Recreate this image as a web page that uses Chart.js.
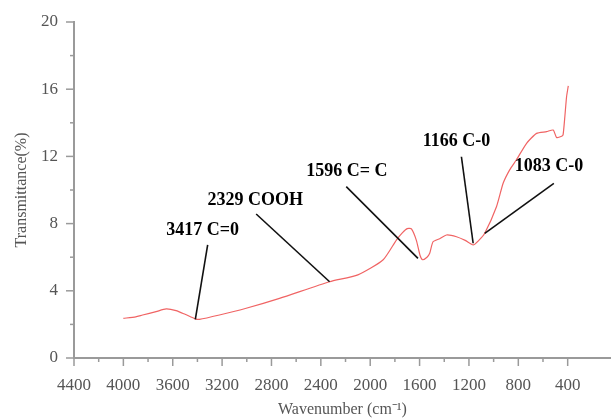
<!DOCTYPE html>
<html>
<head>
<meta charset="utf-8">
<script src="https://cdn.jsdelivr.net/npm/chart.js@4/dist/chart.umd.min.js"></script>
<style>
  html, body { margin: 0; padding: 0; background: #fff; }
  #wrap { width: 611px; height: 419px; position: relative; }
</style>
</head>
<body>
<div id="wrap"><canvas id="ftir"></canvas></div>
<script>
// FTIR spectrum, values
const wavenumber = [4000, 3900, 3844, 3735, 3654, 3573, 3500, 3417, 3384, 3222, 3005, 2735, 2329, 2100, 1897, 1788, 1740, 1700, 1666, 1626, 1596, 1575, 1540, 1518, 1491, 1437, 1382, 1301, 1230, 1166, 1120, 1072, 977, 923, 870, 815, 733, 652, 571, 517, 490, 449, 437, 423, 409, 395];
const transmittance = [2.36, 2.45, 2.56, 2.76, 2.92, 2.82, 2.6, 2.33, 2.30, 2.56, 2.96, 3.55, 4.54, 4.95, 5.83, 7.02, 7.45, 7.7, 7.68, 7.0, 6.1, 5.85, 6.0, 6.23, 6.92, 7.1, 7.32, 7.22, 7.0, 6.73, 7.0, 7.42, 9.0, 10.4, 11.2, 11.8, 12.78, 13.37, 13.47, 13.57, 13.13, 13.2, 13.3, 14.36, 15.55, 16.2];

// peak call-outs: leader line from the peak to the label
const peakLabels = ['3417 C=0', '2329 COOH', '1596 C= C', '1166 C-0', '1083 C-0'];
const leaderFrom = [[3417, 2.3], [2329, 4.54], [1613, 5.93], [1166, 6.83], [1072, 7.42]];
const leaderTo = [[3317, 6.73], [2924, 8.57], [2194, 10.2], [1261, 11.98], [512, 10.4]];
const labelAt = [[3652, 7.62], [3319, 9.4], [2518, 11.09], [1575, 12.88], [829, 11.39]];

const xMajor = [4400, 4000, 3600, 3200, 2800, 2400, 2000, 1600, 1200, 800, 400];
const yMajor = [0, 4, 8, 12, 16, 20];

const axisGrey = '#9a9a9a';
const textGrey = '#555';

const spectrum = wavenumber.map((w, i) => ({ x: w, y: transmittance[i] }));
const leaders = leaderFrom.map((p, i) => ({
  data: [{ x: p[0], y: p[1] }, { x: leaderTo[i][0], y: leaderTo[i][1] }],
  borderColor: '#111',
  borderWidth: 1.6,
  pointRadius: 0,
  order: 0
}));

// small tick marks drawn by hand so minor ticks can be shorter
const tickMarks = {
  id: 'tickMarks',
  afterDraw(chart) {
    const { ctx, scales: { x, y }, chartArea } = chart;
    ctx.save();
    ctx.strokeStyle = axisGrey;
    ctx.lineWidth = 1.5;
    for (let v = 4400; v >= 400; v -= 200) {
      const px = x.getPixelForValue(v);
      const len = v % 400 === 0 ? 8 : 4;
      ctx.beginPath();
      ctx.moveTo(px, chartArea.bottom);
      ctx.lineTo(px, chartArea.bottom + len);
      ctx.stroke();
    }
    for (let v = 0; v <= 20; v += 2) {
      const py = y.getPixelForValue(v);
      const len = v % 4 === 0 ? 8 : 4;
      ctx.beginPath();
      ctx.moveTo(chartArea.left, py);
      ctx.lineTo(chartArea.left - len, py);
      ctx.stroke();
    }
    // peak labels
    ctx.fillStyle = '#000';
    ctx.font = 'bold 18px "Liberation Serif", "DejaVu Serif", serif';
    ctx.textBaseline = 'middle';
    ctx.textAlign = 'left';
    peakLabels.forEach((t, i) => {
      ctx.fillText(t, x.getPixelForValue(labelAt[i][0]), y.getPixelForValue(labelAt[i][1]));
    });
    ctx.restore();
  }
};

new Chart(document.getElementById('ftir'), {
  type: 'line',
  data: {
    datasets: [{
      data: spectrum,
      borderColor: 'rgb(240, 100, 100)',
      borderWidth: 1.2,
      pointRadius: 0,
      tension: 0.2,
      order: 1
    }, ...leaders]
  },
  options: {
    responsive: true,
    maintainAspectRatio: false,
    animation: false,
    layout: { padding: { top: 22, right: 0, left: 0, bottom: 0 } },
    plugins: { legend: { display: false }, tooltip: { enabled: false } },
    scales: {
      x: {
        type: 'linear',
        reverse: true,
        min: 49,
        max: 4400,
        afterBuildTicks: s => { s.ticks = xMajor.map(v => ({ value: v })); },
        afterFit: s => { s.height = 61; },
        grid: { display: false },
        border: { display: true, color: axisGrey, width: 2 },
        ticks: {
          padding: 9,
          color: textGrey,
          maxRotation: 0,
          autoSkip: false,
          callback: v => String(v),
          font: { family: '"Liberation Serif", serif', size: 17 }
        },
        title: {
          display: true,
          text: 'Wavenumber (cm\u207B\u00B9)',
          color: textGrey,
          padding: { top: 0, bottom: 0 },
          font: { family: '"Liberation Serif", serif', size: 16 }
        }
      },
      y: {
        min: 0,
        max: 20,
        afterBuildTicks: s => { s.ticks = yMajor.map(v => ({ value: v })); },
        afterFit: s => { s.width = 74; },
        grid: { display: false },
        border: { display: true, color: axisGrey, width: 2 },
        ticks: {
          padding: 8,
          color: textGrey,
          callback: v => String(v),
          font: { family: '"Liberation Serif", serif', size: 17 }
        },
        title: {
          display: true,
          text: 'Transmittance(%)',
          color: textGrey,
          padding: { top: 12, bottom: 0 },
          font: { family: '"Liberation Serif", serif', size: 16 }
        }
      }
    }
  },
  plugins: [tickMarks]
});
</script>
</body>
</html>
